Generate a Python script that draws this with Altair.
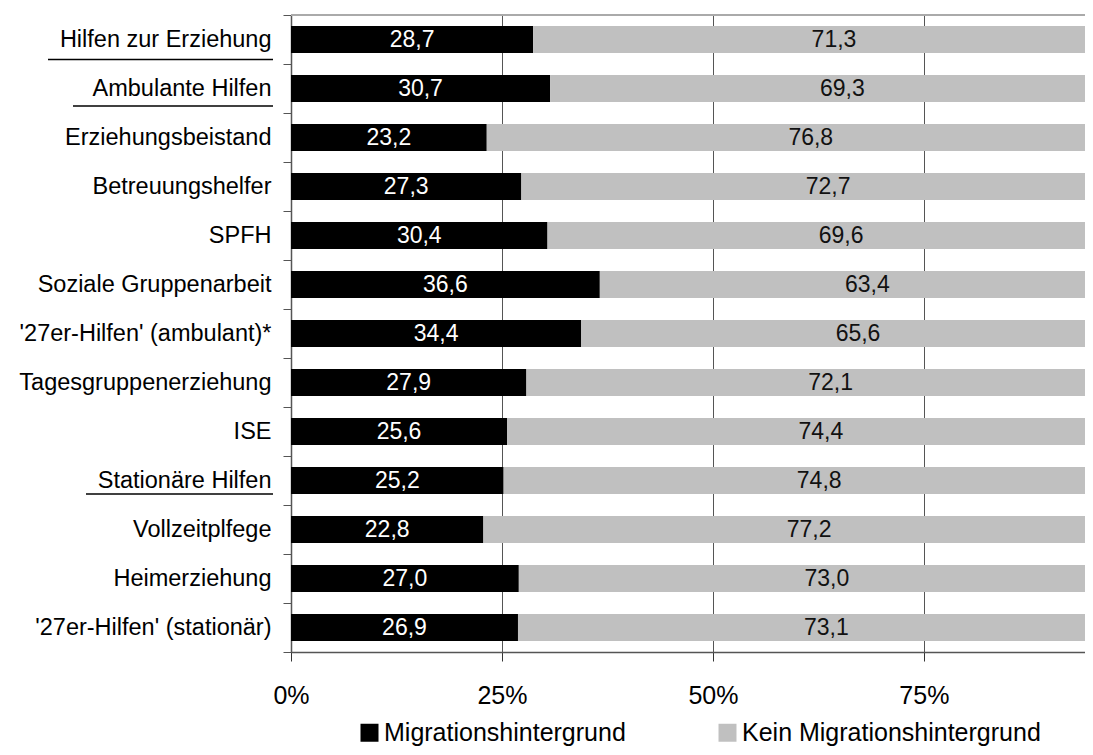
import altair as alt
import pandas as pd

categories = [
    "Hilfen zur Erziehung",
    "Ambulante Hilfen",
    "Erziehungsbeistand",
    "Betreuungshelfer",
    "SPFH",
    "Soziale Gruppenarbeit",
    "'27er-Hilfen' (ambulant)*",
    "Tagesgruppenerziehung",
    "ISE",
    "Stationäre Hilfen",
    "Vollzeitplfege",
    "Heimerziehung",
    "'27er-Hilfen' (stationär)",
]
mig = [28.7, 30.7, 23.2, 27.3, 30.4, 36.6, 34.4, 27.9, 25.6, 25.2, 22.8, 27.0, 26.9]
kein = [71.3, 69.3, 76.8, 72.7, 69.6, 63.4, 65.6, 72.1, 74.4, 74.8, 77.2, 73.0, 73.1]
series = ["Migrationshintergrund", "Kein Migrationshintergrund"]
tick_values = [0, 25, 50, 75]
underlined = ["Hilfen zur Erziehung", "Ambulante Hilfen", "Stationäre Hilfen"]

# styling for the underlines (pixel offsets relative to plot area)
ul_x0 = [-243, -218, -205]
ul_dy = [20, 17.5, 13.5]

FONT = "Liberation Sans, Arial, sans-serif"
W, H = 794, 637

rows = []
for c, m, k in zip(categories, mig, kein):
    rows.append(dict(category=c, series=series[0], value=m, start=0.0, end=m,
                     mid=m / 2, label=f"{m:.1f}".replace(".", ",")))
    rows.append(dict(category=c, series=series[1], value=k, start=m, end=m + k,
                     mid=m + k / 2, label=f"{k:.1f}".replace(".", ",")))
df = pd.DataFrame(rows)

yscale = alt.Scale(domain=categories, paddingInner=0, paddingOuter=0)
xscale = alt.Scale(domain=[0, 94.1], nice=False, zero=False)

y_enc = alt.Y(
    "category:N",
    scale=yscale,
    sort=None,
    title=None,
    axis=alt.Axis(
        tickBand="extent",
        tickSize=8,
        tickColor="#555555",
        domainColor="#555555",
        domainWidth=1.5,
        labelFontSize=23.5,
        labelFont=FONT,
        labelColor="#000000",
        labelPadding=12,
        labelLimit=400,
        grid=False,
    ),
)

base = alt.Chart(df)

bars = base.mark_bar(clip=True, size=27).encode(
    x=alt.X(
        "start:Q",
        scale=xscale,
        title=None,
        axis=alt.Axis(
            values=tick_values,
            labelExpr="datum.value + '%'",
            labelFlush=False,
            grid=True,
            gridColor="#555555",
            gridWidth=1,
            tickSize=9,
            tickColor="#333333",
            domainColor="#555555",
            domainWidth=1.5,
            labelFontSize=25,
            labelFont=FONT,
            labelColor="#000000",
            labelPadding=22,
        ),
    ),
    x2="end:Q",
    y=y_enc,
    color=alt.Color(
        "series:N",
        scale=alt.Scale(domain=series, range=["#000000", "#c0c0c0"]),
        legend=alt.Legend(
            title=None,
            orient="none",
            legendX=66,
            legendY=705,
            direction="horizontal",
            symbolType="square",
            symbolSize=324,
            symbolStrokeWidth=0,
            labelFontSize=25,
            labelFont=FONT,
            labelColor="#000000",
            labelOffset=2,
            columnPadding=89,
            padding=0,
            labelLimit=400,
        ),
    ),
)

texts = base.mark_text(fontSize=23, font=FONT).encode(
    x=alt.X("mid:Q", scale=xscale),
    y=alt.Y("category:N", scale=yscale, sort=None),
    text="label:N",
    color=alt.condition(
        alt.datum.series == series[0], alt.value("#ffffff"), alt.value("#111111")
    ),
)

top_border = alt.Chart(pd.DataFrame({"a": [0]})).mark_rule(
    color="#aaaaaa", strokeWidth=2
).encode(x=alt.value(0), x2=alt.value(W), y=alt.value(0))

layers = [bars, texts, top_border]
for cat, x0, dy in zip(underlined, ul_x0, ul_dy):
    layers.append(
        alt.Chart(pd.DataFrame({"category": [cat]}))
        .mark_rule(color="#000000", strokeWidth=1.5, yOffset=dy)
        .encode(
            y=alt.Y("category:N", scale=yscale, sort=None),
            x=alt.value(x0),
            x2=alt.value(-18),
        )
    )

chart = (
    alt.layer(*layers)
    .properties(
        width=W,
        height=H,
        autosize=alt.AutoSizeParams(type="none"),
        padding={"left": 283, "top": 7, "right": 0, "bottom": 97},
    )
    .configure_view(stroke=None)
    .configure(font=FONT)
)

chart.save("out.html", embed_options={"renderer": "svg", "actions": False})
